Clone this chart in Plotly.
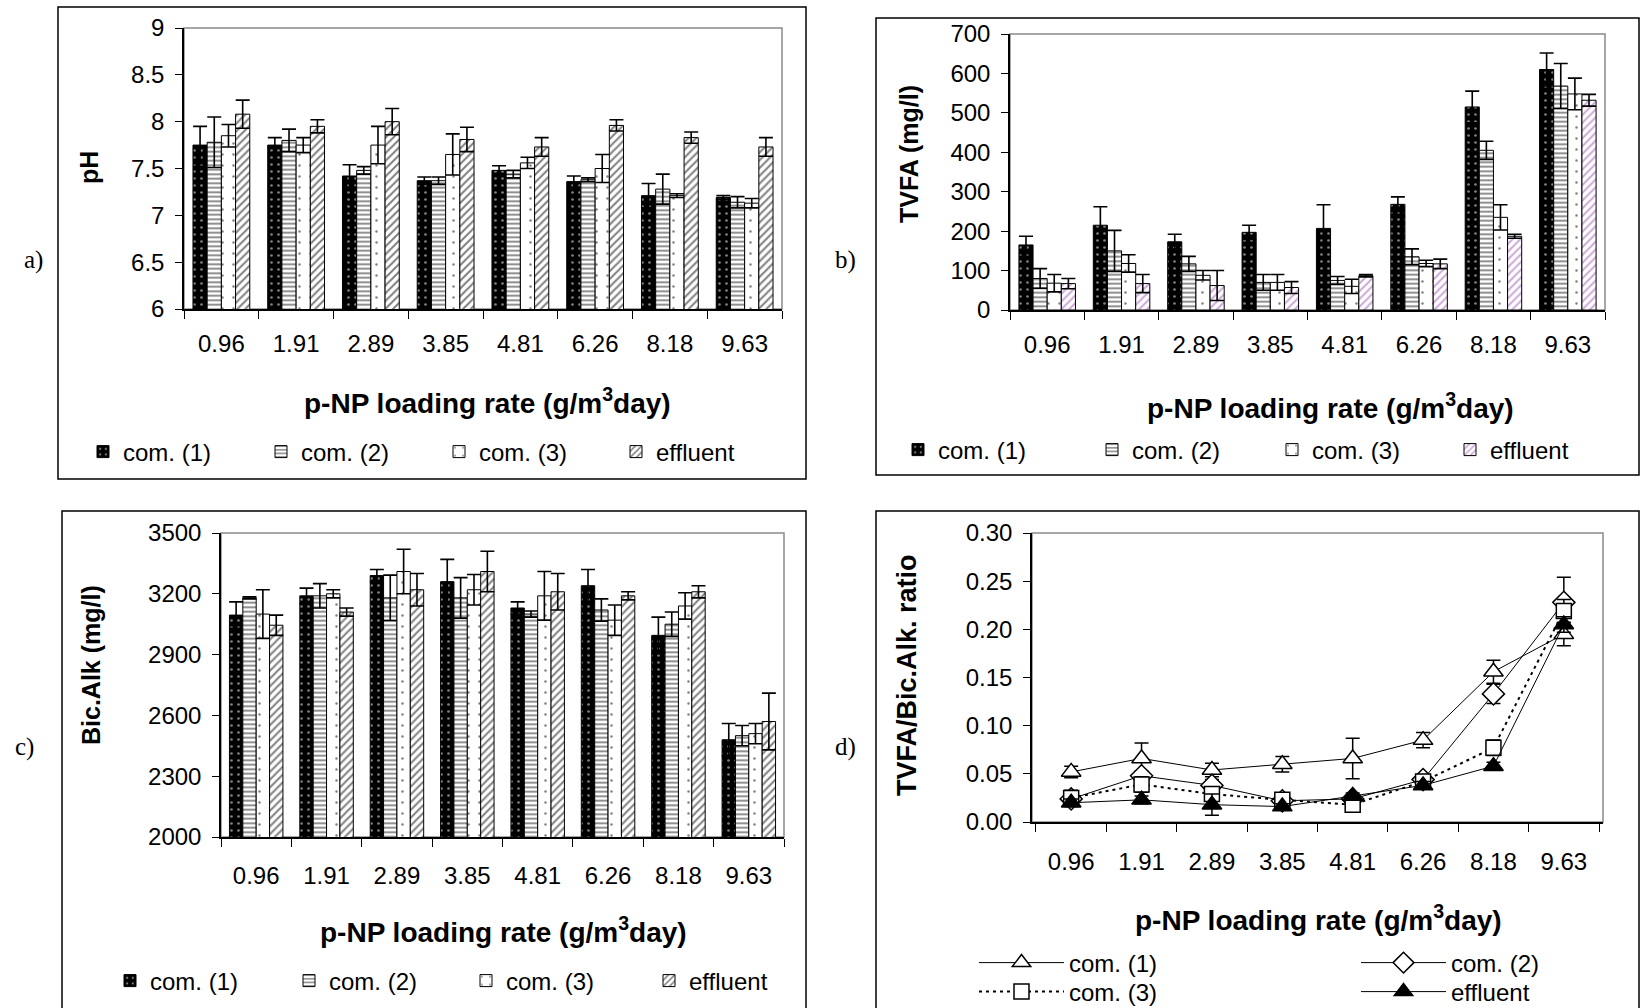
import plotly.graph_objects as go

W, H = 1642, 1008

categories = ["0.96", "1.91", "2.89", "3.85", "4.81", "6.26", "8.18", "9.63"]
series_names = ["com. (1)", "com. (2)", "com. (3)", "effluent"]

# a) pH
ph_com1 = [7.75, 7.75, 7.42, 7.37, 7.48, 7.36, 7.21, 7.19]
ph_com1_err = [0.20, 0.08, 0.12, 0.04, 0.05, 0.06, 0.13, 0.02]
ph_com2 = [7.78, 7.80, 7.48, 7.37, 7.44, 7.38, 7.28, 7.14]
ph_com2_err = [0.27, 0.12, 0.04, 0.04, 0.04, 0.02, 0.16, 0.06]
ph_com3 = [7.85, 7.75, 7.75, 7.65, 7.56, 7.50, 7.21, 7.13]
ph_com3_err = [0.12, 0.08, 0.20, 0.22, 0.06, 0.15, 0.02, 0.05]
ph_eff = [8.08, 7.95, 8.00, 7.81, 7.73, 7.96, 7.83, 7.73]
ph_eff_err = [0.15, 0.07, 0.14, 0.13, 0.10, 0.06, 0.06, 0.10]

# b) TVFA (mg/l)
tvfa_com1 = [165, 215, 173, 197, 207, 268, 515, 610]
tvfa_com1_err = [22, 47, 19, 18, 60, 19, 40, 42]
tvfa_com2 = [80, 150, 117, 70, 75, 135, 405, 568]
tvfa_com2_err = [25, 52, 19, 20, 10, 20, 23, 57]
tvfa_com3 = [68, 118, 88, 70, 60, 118, 235, 548]
tvfa_com3_err = [22, 22, 12, 20, 18, 8, 32, 40]
tvfa_eff = [67, 67, 62, 57, 87, 117, 187, 532]
tvfa_eff_err = [13, 23, 38, 15, 3, 12, 5, 15]

# c) Bic.Alk (mg/l)
alk_com1 = [3095, 3190, 3290, 3260, 3130, 3240, 2995, 2480]
alk_com1_err = [65, 38, 30, 110, 30, 80, 90, 80]
alk_com2 = [3180, 3190, 3180, 3180, 3100, 3120, 3050, 2500]
alk_com2_err = [5, 60, 112, 100, 15, 55, 60, 50]
alk_com3 = [3100, 3200, 3310, 3220, 3190, 3070, 3140, 2510]
alk_com3_err = [120, 20, 110, 75, 120, 75, 65, 50]
alk_eff = [3045, 3110, 3220, 3310, 3210, 3190, 3210, 2570]
alk_eff_err = [50, 20, 80, 100, 90, 20, 30, 140]

# d) TVFA/Bic.Alk. ratio
ratio_com1 = [0.052, 0.066, 0.054, 0.060, 0.066, 0.085, 0.156, 0.195]
ratio_com1_err = [0.006, 0.016, 0.007, 0.008, 0.021, 0.008, 0.012, 0.012]
ratio_com2 = [0.024, 0.048, 0.038, 0.022, 0.024, 0.044, 0.133, 0.228]
ratio_com2_err = [0.005, 0.005, 0.006, 0.003, 0.003, 0.005, 0.010, 0.026]
ratio_com3 = [0.025, 0.039, 0.029, 0.023, 0.018, 0.042, 0.077, 0.219]
ratio_com3_err = [0.008, 0.008, 0.006, 0.003, 0.003, 0.005, 0.008, 0.012]
ratio_eff = [0.020, 0.023, 0.018, 0.016, 0.027, 0.038, 0.058, 0.205]
ratio_eff_err = [0.004, 0.004, 0.011, 0.003, 0.003, 0.004, 0.004, 0.008]

FONT = "Liberation Sans, Arial, sans-serif"
SERIF = "Liberation Serif, Times New Roman, serif"


def fx(px):
    return px / W


def fy(py):
    return 1 - py / H


def patt(i, hatch_color="black"):
    if i == 0:
        return dict(shape=".", bgcolor="black", fgcolor="white", size=7, solidity=0.12)
    if i == 1:
        return dict(shape="-", bgcolor="white", fgcolor="black", size=4.5, solidity=0.4)
    if i == 2:
        return dict(shape=".", bgcolor="white", fgcolor="black", size=11, solidity=0.04)
    return dict(shape="/", bgcolor="white", fgcolor=hatch_color, size=5.5, solidity=0.35)


legfont = dict(family=FONT, size=24, color="black")
legends = {}
leg_counter = [0]


def new_legend(xpx, ypx, itemwidth=30):
    leg_counter[0] += 1
    key = "legend" if leg_counter[0] == 1 else "legend%d" % leg_counter[0]
    legends[key] = dict(orientation="v", x=fx(xpx), y=fy(ypx), xanchor="left",
                        yanchor="middle", xref="paper", yref="paper", itemwidth=itemwidth,
                        font=legfont, bgcolor="rgba(0,0,0,0)", borderwidth=0)
    return key


fig = go.Figure()

# text start positions (px) of legend entries in each bar panel, and row centre
bar_panels = [
    ("x", "y", [ph_com1, ph_com2, ph_com3, ph_eff],
     [ph_com1_err, ph_com2_err, ph_com3_err, ph_eff_err], "black",
     [125, 303, 481, 658], 452),
    ("x2", "y2", [tvfa_com1, tvfa_com2, tvfa_com3, tvfa_eff],
     [tvfa_com1_err, tvfa_com2_err, tvfa_com3_err, tvfa_eff_err], "#9A4FB0",
     [940, 1134, 1314, 1492], 450),
    ("x3", "y3", [alk_com1, alk_com2, alk_com3, alk_eff],
     [alk_com1_err, alk_com2_err, alk_com3_err, alk_eff_err], "black",
     [152, 331, 508, 691], 981),
]
for xa, ya, vals, errs, hc, ltx, lty in bar_panels:
    for i, (v, e) in enumerate(zip(vals, errs)):
        lg = new_legend(ltx[i] - 42, lty)
        fig.add_trace(go.Bar(
            x=categories, y=v, name=series_names[i], xaxis=xa, yaxis=ya, legend=lg,
            marker=dict(color="white" if i else "black", pattern=patt(i, hc),
                        line=dict(color="black", width=1)),
            error_y=dict(type="data", array=e, visible=True, color="black",
                         thickness=1.6, width=7),
        ))

line_series = [
    (ratio_com1, ratio_com1_err, "triangle-up", "white", "solid", 1),
    (ratio_com2, ratio_com2_err, "diamond", "white", "solid", 1),
    (ratio_com3, ratio_com3_err, "square", "white", "3px,4px", 2),
    (ratio_eff, ratio_eff_err, "triangle-up", "black", "solid", 1),
]
line_leg_pos = [(974, 963), (1356, 963), (974, 992), (1356, 992)]
for i, (v, e, sym, fc, dash, lw) in enumerate(line_series):
    lg = new_legend(line_leg_pos[i][0], line_leg_pos[i][1], itemwidth=85)
    fig.add_trace(go.Scatter(
        x=categories, y=v, name=series_names[i], xaxis="x4", yaxis="y4", legend=lg,
        mode="lines+markers",
        line=dict(color="black", width=lw, dash=dash),
        marker=dict(symbol=sym, size=17 if sym != "square" else 15, color=fc,
                    line=dict(color="black", width=1.5)),
        error_y=dict(type="data", array=e, visible=True, color="black",
                     thickness=1.5, width=7),
    ))

# panel geometry in pixels: (x0, x1, y_top, y_bottom)
plots = {
    "a": (184, 782, 28, 309),
    "b": (1010, 1605, 34, 310),
    "c": (221, 784, 533, 837),
    "d": (1032, 1603, 533, 822),
}
yranges = {"a": [6, 9], "b": [0, 700], "c": [2000, 3500], "d": [0, 0.30]}
ydticks = {"a": 0.5, "b": 100, "c": 300, "d": 0.05}
yformats = {"a": "", "b": "", "c": "", "d": ".2f"}
xstandoff = {"a": 12, "b": 12, "c": 16, "d": 17}

tickfont = dict(family=FONT, size=24, color="black")
for k, suffix in zip("abcd", ["", "2", "3", "4"]):
    x0, x1, yt, yb = plots[k]
    fig.update_layout(**{
        "xaxis" + suffix: dict(
            domain=[fx(x0), fx(x1)], anchor="y" + suffix, type="category",
            showline=True, linecolor="black", linewidth=1.5,
            ticks="outside", tickson="boundaries", ticklen=8, tickcolor="black", tickwidth=1.2,
            tickfont=tickfont, ticklabelstandoff=xstandoff[k], showgrid=False, zeroline=False,
        ),
        "yaxis" + suffix: dict(
            domain=[fy(yb), fy(yt)], anchor="x" + suffix, range=yranges[k],
            dtick=ydticks[k], tick0=yranges[k][0], tickformat=yformats[k],
            showline=True, linecolor="black", linewidth=1.5,
            ticks="outside", ticklen=7, tickcolor="black", tickwidth=1.2,
            tickfont=tickfont, ticklabelstandoff=6, showgrid=False, zeroline=False,
        ),
    })

shapes = []
for k in "abcd":
    x0, x1, yt, yb = plots[k]
    shapes.append(dict(type="rect", xref="paper", yref="paper", x0=fx(x0), x1=fx(x1),
                       y0=fy(yb), y1=fy(yt), line=dict(color="#8a8a8a", width=1.5),
                       layer="below"))
boxes = [(58, 806, 7, 479), (876, 1639, 18, 475), (62, 806, 511, 1020), (876, 1639, 511, 1020)]
for x0, x1, yt, yb in boxes:
    shapes.append(dict(type="rect", xref="paper", yref="paper", x0=fx(x0), x1=fx(x1),
                       y0=fy(yb), y1=fy(yt), line=dict(color="black", width=1.5),
                       fillcolor="rgba(0,0,0,0)"))

xtitle = "<b>p-NP loading rate (g/m<sup>3</sup>day)</b>"
ann = []
for (x, y) in [(487, 401), (1330, 406), (503, 930), (1318, 918)]:
    ann.append(dict(text=xtitle, x=fx(x), y=fy(y), xref="paper", yref="paper",
                    showarrow=False, font=dict(family=FONT, size=28, color="black"),
                    xanchor="center", yanchor="middle"))
for text, x, y, fs in [("pH", 89, 168, 25), ("TVFA (mg/l)", 909, 154, 25),
                       ("Bic.Alk (mg/l)", 91, 665, 25), ("TVFA/Bic.Alk. ratio", 907, 675, 27)]:
    ann.append(dict(text="<b>" + text + "</b>", x=fx(x), y=fy(y), xref="paper", yref="paper",
                    showarrow=False, textangle=-90,
                    font=dict(family=FONT, size=fs, color="black"),
                    xanchor="center", yanchor="middle"))
for text, x, y in [("a)", 33, 260), ("b)", 845, 260), ("c)", 24, 747), ("d)", 845, 747)]:
    ann.append(dict(text=text, x=fx(x), y=fy(y), xref="paper", yref="paper",
                    showarrow=False, font=dict(family=SERIF, size=25, color="black"),
                    xanchor="center", yanchor="middle"))

fig.update_layout(
    width=W, height=H, margin=dict(l=0, r=0, t=0, b=0, autoexpand=False),
    paper_bgcolor="white", plot_bgcolor="white",
    barmode="group", bargap=0.24, bargroupgap=0,
    showlegend=True,
    shapes=shapes, annotations=ann,
    **legends,
)

fig.write_html("out.html")
